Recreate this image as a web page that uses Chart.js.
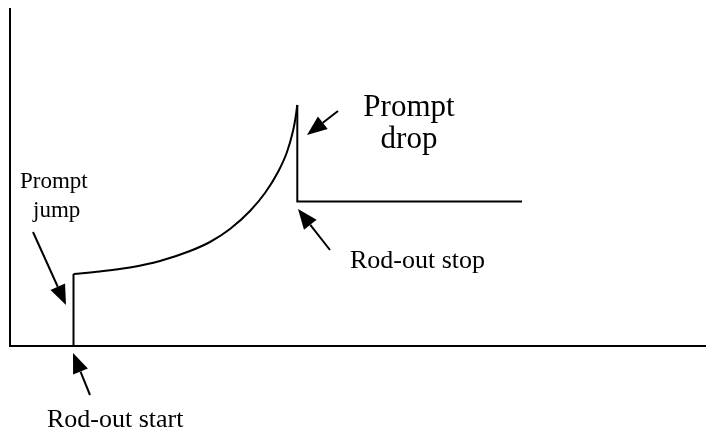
<!DOCTYPE html>
<html>
<head>
<meta charset="utf-8">
<script src="https://cdn.jsdelivr.net/npm/chart.js@4/dist/chart.umd.min.js"></script>
<style>
  body { margin: 0; background: #fff; }
  #wrap { width: 706px; height: 432px; }
</style>
</head>
<body>
<div id="wrap"><canvas id="rodChart" width="706" height="432"></canvas></div>
<script>
// values (x = time, y = power, arbitrary units)
var jumpX = [63.5, 63.5];
var jumpY = [0, 72];
var riseX = [63.5, 90, 120, 150, 180, 200, 220, 240, 255, 268, 277, 283, 285.5, 287.3];
var riseY = [72, 74.5, 78.5, 85, 95, 104, 117, 135, 153, 174, 194, 215, 228, 241];
var dropX = [287.3, 287.3, 512];
var dropY = [241, 144.5, 144.5];

// labels and arrows (tail -> tip), in the same units
var labels = [
  { text: 'Prompt', x: 10, y: 158, size: 23, align: 'left' },
  { text: 'jump', x: 23, y: 129, size: 23, align: 'left' },
  { text: 'Prompt', x: 399, y: 230, size: 31, align: 'center' },
  { text: 'drop', x: 399, y: 198, size: 31, align: 'center' },
  { text: 'Rod-out stop', x: 340, y: 78, size: 26, align: 'left' },
  { text: 'Rod-out start', x: 37, y: -81, size: 26, align: 'left' }
];
var arrowTail = [[23, 114], [80, -49], [328, 235], [320, 96]];
var arrowTip = [[56, 41], [63, -7], [297, 211], [288, 137]];

function pts(xs, ys) {
  return xs.map(function (x, i) { return { x: x, y: ys[i] }; });
}

var annotate = {
  id: 'annotate',
  afterDatasetsDraw: function (chart) {
    var c = chart.ctx, sx = chart.scales.x, sy = chart.scales.y;
    c.save();
    c.fillStyle = '#000';
    c.strokeStyle = '#000';
    c.lineWidth = 2;
    arrowTail.forEach(function (t, i) {
      var x0 = sx.getPixelForValue(t[0]), y0 = sy.getPixelForValue(t[1]);
      var x1 = sx.getPixelForValue(arrowTip[i][0]), y1 = sy.getPixelForValue(arrowTip[i][1]);
      var a = Math.atan2(y1 - y0, x1 - x0);
      var hl = 20, hw = 8;
      var bx = x1 - hl * Math.cos(a), by = y1 - hl * Math.sin(a);
      c.beginPath();
      c.moveTo(x0, y0);
      c.lineTo(bx, by);
      c.stroke();
      c.beginPath();
      c.moveTo(x1, y1);
      c.lineTo(bx + hw * Math.sin(a), by - hw * Math.cos(a));
      c.lineTo(bx - hw * Math.sin(a), by + hw * Math.cos(a));
      c.closePath();
      c.fill();
    });
    c.textBaseline = 'alphabetic';
    labels.forEach(function (l) {
      c.font = l.size + 'px "Liberation Serif", "Times New Roman", serif';
      c.textAlign = l.align;
      c.fillText(l.text, sx.getPixelForValue(l.x), sy.getPixelForValue(l.y));
    });
    c.restore();
  }
};

var line = { borderColor: '#000', borderWidth: 2, pointRadius: 0, fill: false };

new Chart(document.getElementById('rodChart'), {
  type: 'line',
  data: {
    datasets: [
      Object.assign({ label: 'jump', data: pts(jumpX, jumpY), tension: 0 }, line),
      Object.assign({ label: 'rise', data: pts(riseX, riseY), cubicInterpolationMode: 'monotone' }, line),
      Object.assign({ label: 'drop', data: pts(dropX, dropY), tension: 0 }, line)
    ]
  },
  options: {
    responsive: false,
    animation: false,
    layout: { padding: { left: 10, top: 9, right: 0, bottom: 86 } },
    plugins: { legend: { display: false }, tooltip: { enabled: false } },
    scales: {
      x: {
        type: 'linear', min: 0, max: 696,
        grid: { display: false, drawTicks: false },
        ticks: { display: false },
        border: { display: true, color: '#000', width: 2 }
      },
      y: {
        min: 0, max: 337,
        grid: { display: false, drawTicks: false },
        ticks: { display: false },
        border: { display: true, color: '#000', width: 2 }
      }
    }
  },
  plugins: [annotate]
});
</script>
</body>
</html>
